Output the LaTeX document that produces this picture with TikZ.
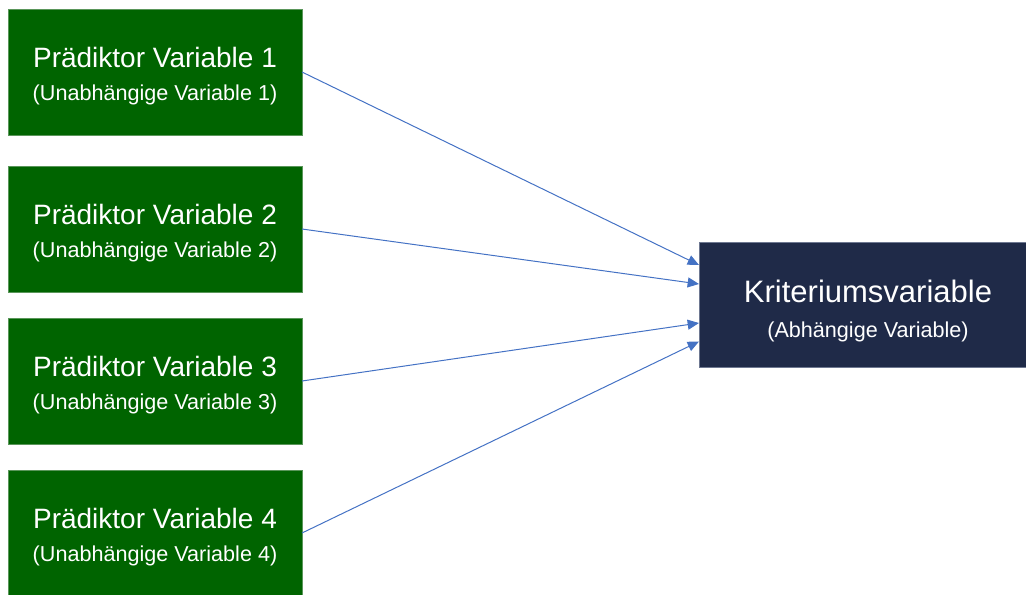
\documentclass[tikz,border=0pt]{standalone}
\usepackage{fontspec}
\setmainfont{Liberation Sans}
\usetikzlibrary{arrows.meta,calc}
\definecolor{boxgreen}{RGB}{0,100,0}
\definecolor{greenedge}{RGB}{90,150,90}
\definecolor{boxnavy}{RGB}{31,42,72}
\definecolor{navyedge}{RGB}{110,120,145}
\definecolor{arrowblue}{RGB}{68,114,196}
\begin{document}
\begin{tikzpicture}[x=0.75pt,y=-0.75pt,
  pbox/.style={fill=boxgreen,draw=greenedge,line width=0.5pt,minimum width=220.5pt,minimum height=94.5pt,inner sep=0pt,outer sep=0pt},
  kbox/.style={fill=boxnavy,draw=navyedge,line width=0.5pt,minimum width=253.5pt,minimum height=93.75pt,inner sep=0pt,outer sep=0pt},
  ptitle/.style={text=white,anchor=base,inner sep=0pt,font=\fontsize{21}{24}\selectfont},
  ktitle/.style={text=white,anchor=base,inner sep=0pt,font=\fontsize{23.25}{27}\selectfont},
  sub/.style={text=white,anchor=base,inner sep=0pt,font=\fontsize{16.2}{19}\selectfont},
  conn/.style={draw=arrowblue,line width=0.75pt,-{Triangle[length=8.5pt,width=7.5pt]}}]
\useasboundingbox (0,0) rectangle (1026,594);
\clip (0,0) rectangle (1026,594);
\node[pbox] (p1) at (155,72) {};
\node[pbox] (p2) at (155,229) {};
\node[pbox] (p3) at (155,381) {};
\node[pbox] (p4) at (155,533) {};
\node[kbox] (k) at (868,304.5) {};
\foreach \i in {1,2,3,4}{
  \node[ptitle] (t\i) at ($(p\i.center)+(0,-5)$) {Prädiktor Variable \i};
  \node[sub] (s\i) at ($(p\i.center)+(0,28)$) {(Unabhängige Variable \i)};
}
\node[ktitle] (kt) at ($(k.center)+(0,-2.5)$) {Kriteriumsvariable};
\node[sub] (ks) at ($(k.center)+(0,33)$) {(Abhängige Variable)};
\coordinate (e1) at ($(k.west)+(0,-39.5)$);
\coordinate (e2) at ($(k.west)+(0,-20.5)$);
\coordinate (e3) at ($(k.west)+(0,18.5)$);
\coordinate (e4) at ($(k.west)+(0,37)$);
\draw[conn] (p1.east) -- (e1);
\draw[conn] (p2.east) -- (e2);
\draw[conn] (p3.east) -- (e3);
\draw[conn] (p4.east) -- (e4);
\end{tikzpicture}
\end{document}
